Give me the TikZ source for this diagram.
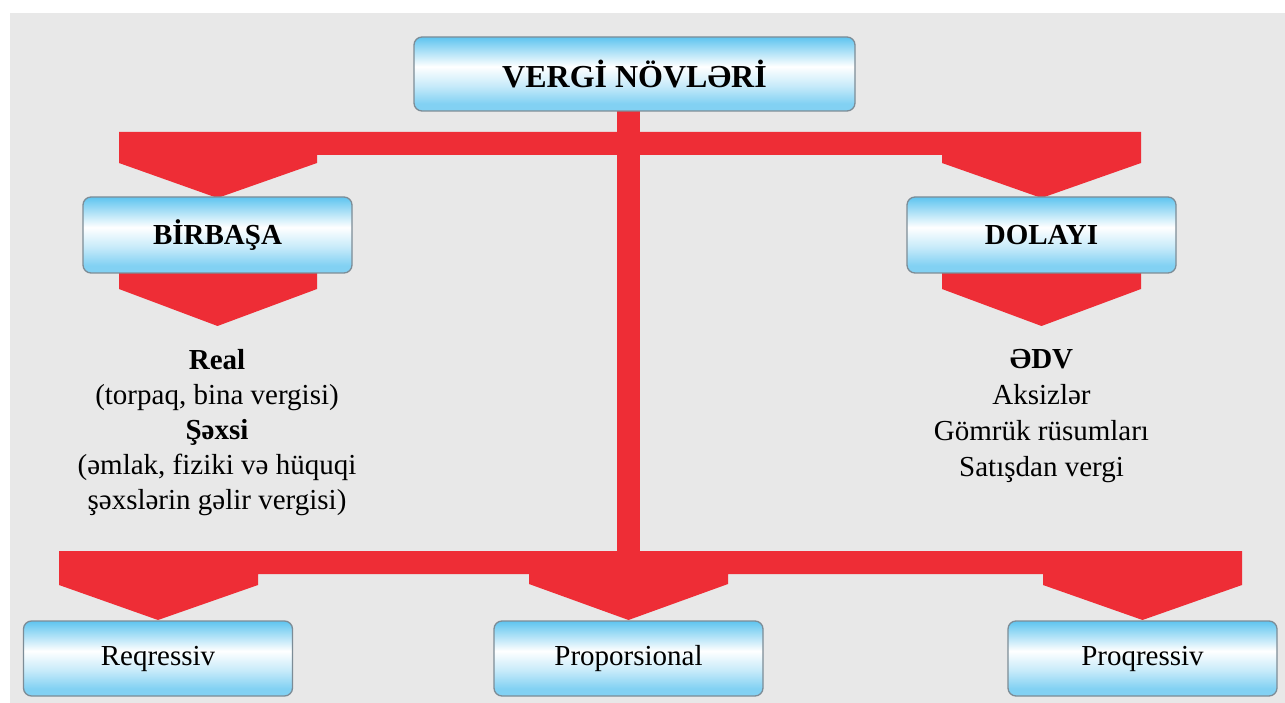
\documentclass[tikz,border=0pt]{standalone}
\usepackage{fontspec}
\setmainfont{Liberation Serif}
\usetikzlibrary{calc}
\definecolor{bggray}{HTML}{E8E8E8}
\definecolor{redarrow}{HTML}{EE2D36}
\definecolor{btop}{HTML}{5EC4EF}
\definecolor{bbot}{HTML}{82D1F3}
\definecolor{boxborder}{HTML}{7D8C96}
\pgfdeclareverticalshading{boxshade}{100bp}{color(0bp)=(bbot); color(30bp)=(bbot); color(42bp)=(bbot!45!white); color(55bp)=(white); color(64bp)=(btop!45!white); color(75bp)=(btop); color(100bp)=(btop)}
\tikzset{
  tbox/.style={draw=boxborder, line width=1.3pt, rounded corners=8pt, shading=boxshade,
    minimum width=269pt, minimum height=75pt, inner sep=0pt, text=black},
  boldlabel/.style={font=\fontsize{29}{35}\selectfont\bfseries},
  plainlabel/.style={font=\fontsize{29}{35}\selectfont},
  redshape/.style={fill=redarrow, draw=none},
  listtext/.style={align=center, inner sep=0pt, font=\fontsize{29}{35}\selectfont}
}
\begin{document}
\begin{tikzpicture}[x=1pt,y=-1pt]
\useasboundingbox (0,0) rectangle (1285,703);
\fill[white] (0,0) rectangle (1285,703);
\fill[bggray] (10,13) rectangle (1285,703);

% node positions
\coordinate (topc) at (634.5,74);
\coordinate (birc) at (217.5,235);
\coordinate (dolc) at (1041.5,235);
\coordinate (reqc) at (158,658.5);
\coordinate (proc) at (628.5,658.5);
\coordinate (prqc) at (1142.5,658.5);

% red connectors (behind boxes)
\fill[redshape] (617,100) rectangle (640,574);
\fill[redshape] (119,132) -- (1141,132) -- (1141,163) -- (1041.5,198) -- (942,163) -- (942,155)
  -- (317,155) -- (317,163) -- (217.5,198) -- (119,163) -- cycle;
\fill[redshape] (119,265) -- (317,265) -- (317,289) -- (217.5,326) -- (119,289) -- cycle;
\fill[redshape] (942,265) -- (1141,265) -- (1141,289) -- (1041.5,326) -- (942,289) -- cycle;
\fill[redshape] (59,551) -- (1242,551) -- (1242,585) -- (1142.5,620) -- (1043,585) -- (1043,574)
  -- (728,574) -- (728,584) -- (628.5,620) -- (529,584) -- (529,574)
  -- (258,574) -- (258,585) -- (158,620) -- (59,585) -- cycle;

% boxes
\node[tbox, minimum width=441pt, minimum height=74pt, font=\fontsize{32}{38}\selectfont\bfseries] (top) at (topc) {VERGİ NÖVLƏRİ};
\node[tbox, minimum height=76pt, boldlabel] (bir) at (birc) {BİRBAŞA};
\node[tbox, minimum height=76pt, boldlabel] (dol) at (dolc) {DOLAYI};
\node[tbox, plainlabel] (req) at (reqc) {Reqressiv};
\node[tbox, plainlabel] (pro) at (proc) {Proporsional};
\node[tbox, plainlabel] (prq) at (prqc) {Proqressiv};

% lists
\node[listtext] (birlist) at (217,433) {\textbf{Real}\\(torpaq, bina vergisi)\\\textbf{Şəxsi}\\(əmlak, fiziki və hüquqi\\şəxslərin gəlir vergisi)};
\node[listtext, font=\fontsize{29}{36}\selectfont] (dollist) at (1041.5,416) {\textbf{ƏDV}\\Aksizlər\\Gömrük rüsumları\\Satışdan vergi};
\end{tikzpicture}
\end{document}
